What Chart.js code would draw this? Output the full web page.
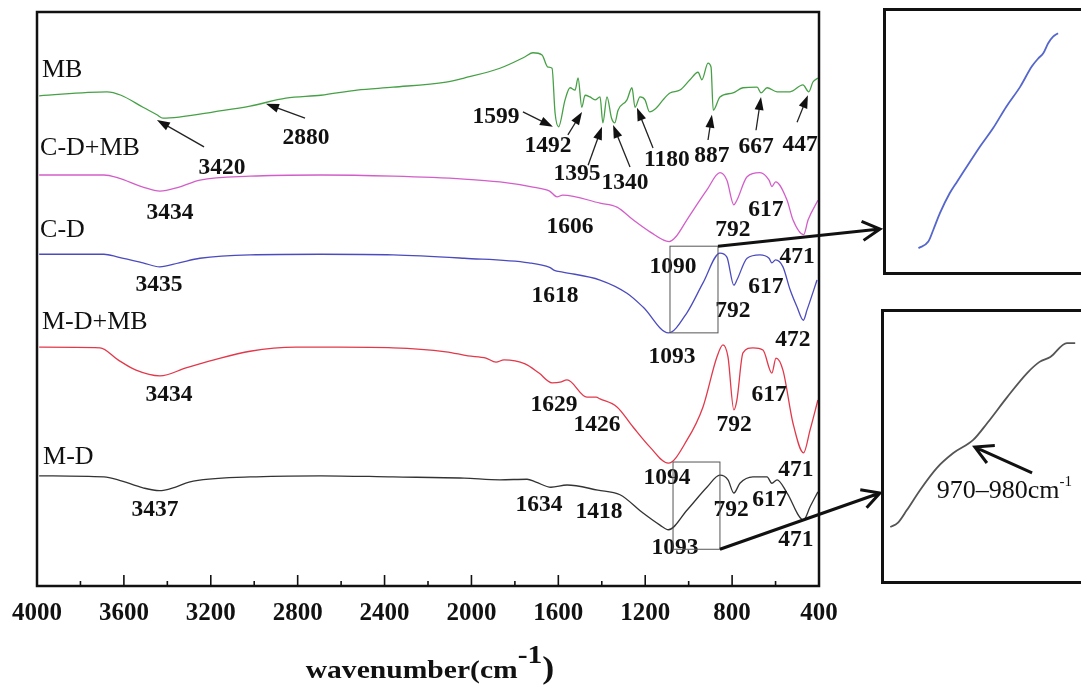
<!DOCTYPE html>
<html>
<head>
<meta charset="utf-8">
<script src="https://cdn.jsdelivr.net/npm/chart.js@4.4.1/dist/chart.umd.min.js"></script>
<style>
  html, body { margin: 0; padding: 0; background: #fff; overflow: hidden; }
  #wrap { position: relative; width: 1081px; height: 691px; overflow: hidden; background: #fff; }
  #wrap canvas { position: absolute; }
  .frame { position: absolute; box-sizing: border-box; border: 3px solid #111; }
</style>
</head>
<body>
<div id="wrap">
  <canvas id="main" width="1081" height="691" style="left:0;top:0;width:1081px;height:691px"></canvas>
  <canvas id="insetA" width="197" height="264" style="left:884px;top:9px;width:197px;height:264px"></canvas>
  <canvas id="insetB" width="199" height="273" style="left:882px;top:310px;width:199px;height:273px"></canvas>
  <div class="frame" style="left:883px;top:8px;width:230px;height:267px"></div>
  <div class="frame" style="left:881px;top:309px;width:230px;height:275px"></div>
</div>
<script>
// ---- FTIR spectra (wavenumber in cm-1, transmittance in arbitrary offset units) ----
const mbWn = [3990, 3678, 3613, 3512, 3448, 3420, 3346, 3185, 3019, 2854,
              2693, 2527, 2361, 2117, 2034, 1869, 1753, 1717, 1675, 1648,
              1629, 1615, 1599, 1569, 1546, 1523, 1509, 1492, 1477, 1454,
              1431, 1408, 1395, 1376, 1355, 1340, 1325, 1284, 1261, 1247,
              1224, 1201, 1180, 1146, 1118, 1086, 1040, 994, 957, 939,
              911, 897, 887, 856, 796, 750, 685, 667, 639, 593,
              533, 474, 447, 428, 405];
const mbT  = [85.4, 86.1, 85.5, 83.4, 82.1, 81.5, 81.7, 82.6, 83.6, 85.0,
              85.5, 86.4, 86.9, 87.8, 88.5, 90.2, 92.2, 92.9, 92.5, 90.4,
              90.2, 82.4, 80.0, 84.7, 86.8, 86.4, 88.5, 83.4, 85.5, 85.2,
              84.7, 85.2, 80.7, 85.2, 81.5, 80.7, 82.9, 84.7, 86.8, 83.4,
              85.2, 84.7, 82.6, 83.4, 84.7, 85.9, 86.4, 88.2, 89.5, 88.2,
              91.1, 90.4, 82.9, 85.2, 85.9, 86.8, 86.9, 85.9, 86.8, 86.1,
              86.1, 87.3, 86.1, 87.8, 88.5];

const cdmbWn = [3990, 3692, 3627, 3512, 3434, 3346, 3250, 3019, 2693, 2361,
                2034, 1869, 1717, 1640, 1606, 1580, 1408, 1330, 1256, 1178,
                1090, 1060, 1008, 916, 856, 824, 792, 778, 731, 672,
                630, 617, 600, 547, 520, 471, 450, 405];
const cdmbT  = [71.6, 71.6, 71.1, 69.5, 68.8, 69.5, 70.7, 71.4, 71.6, 71.4,
                70.9, 70.4, 69.5, 68.8, 67.8, 68.1, 66.7, 66.0, 63.8, 61.7,
                60.0, 60.8, 63.8, 69.0, 72.0, 70.7, 66.4, 67.2, 71.3, 72.0,
                70.7, 69.6, 70.4, 67.2, 63.8, 61.2, 63.8, 67.2];

const cdWn = [3990, 3692, 3627, 3512, 3435, 3346, 3250, 3019, 2693, 2361,
              2034, 1735, 1640, 1618, 1580, 1408, 1284, 1210, 1093, 1008,
              934, 856, 824, 792, 778, 731, 672, 630, 617, 600,
              566, 533, 501, 472, 455, 409];
const cdT  = [57.8, 57.8, 57.3, 56.3, 55.6, 56.3, 57.1, 57.7, 57.8, 57.7,
              57.1, 56.3, 55.5, 55.0, 54.7, 53.3, 51.0, 48.6, 44.1, 47.6,
              52.8, 58.0, 57.3, 52.4, 53.3, 57.1, 57.7, 57.1, 56.3, 56.8,
              55.6, 51.6, 48.6, 46.3, 48.1, 53.3];

const mdmbWn = [3990, 3710, 3627, 3544, 3434, 3314, 3185, 3019, 2808, 2610,
                2361, 2117, 2016, 1933, 1887, 1850, 1753, 1689, 1629, 1592,
                1560, 1468, 1426, 1408, 1330, 1256, 1178, 1094, 1008, 934,
                870, 842, 819, 792, 778, 750, 704, 658, 617, 598,
                566, 520, 471, 441, 405];
const mdmbT  = [41.6, 41.5, 39.4, 37.6, 36.6, 38.0, 39.4, 40.9, 41.6, 41.6,
                41.5, 40.8, 40.1, 39.7, 39.0, 39.4, 38.7, 37.1, 35.4, 35.5,
                35.9, 32.9, 32.9, 32.6, 31.2, 27.7, 24.2, 21.4, 25.4, 31.2,
                39.9, 42.0, 39.9, 30.7, 32.4, 40.6, 41.5, 41.1, 37.1, 39.7,
                37.6, 28.4, 23.2, 27.2, 32.4];

const mdWn = [3990, 3692, 3627, 3512, 3437, 3365, 3300, 3019, 2693, 2361,
              2034, 1869, 1744, 1703, 1634, 1560, 1418, 1316, 1210, 1132,
              1093, 1008, 916, 856, 819, 792, 764, 704, 639, 617,
              593, 547, 471, 441, 405];
const mdT  = [19.2, 19.0, 18.5, 17.1, 16.6, 17.2, 18.1, 19.0, 19.2, 19.0,
              18.8, 18.5, 18.6, 18.1, 17.2, 17.6, 16.7, 15.9, 12.7, 10.6,
              9.8, 13.2, 17.2, 19.3, 18.5, 16.2, 17.9, 19.0, 19.0, 17.9,
              18.5, 16.2, 11.5, 13.8, 16.4];

// enlarged 1093-880 cm-1 windows of C-D and M-D
const zoomCdWn = [1058, 1046, 1040, 1032, 1020, 1011, 999, 983, 967, 951, 934, 920, 912, 906, 900, 894, 888];
const zoomCdT  = [9.4, 11.9, 16.3, 22.6, 30.2, 34.6, 40.3, 47.9, 54.9, 63.0, 70.6, 78.2, 81.3, 83.2, 87.0, 89.5, 90.8];
const zoomMdWn = [1090, 1081, 1070, 1054, 1034, 1014, 990, 973, 949, 925, 910, 897, 877, 867];
const zoomMdT  = [20.5, 22.0, 26.7, 34.1, 42.1, 47.6, 52.4, 58.6, 68.1, 76.9, 81.0, 82.8, 87.9, 87.9];

// axis ticks
const xMin = 400, xMax = 4000, majorStep = 400, minorStep = 200;

// curve names
const seriesNames = ["MB", "C-D+MB", "C-D", "M-D+MB", "M-D"];
const seriesColors = ["#46a046", "#d35ec9", "#4b4bbf", "#e2384a", "#333333"];
const nameWn = [3977, 3986, 3986, 3977, 3972];
const nameT  = [89.9, 76.3, 62.0, 46.0, 22.5];

// band assignments written next to the curves
const peakText = ["3420", "2880", "1599", "1492", "1395", "1340", "1180", "887", "667", "447",
                  "3434", "1606", "1090", "792", "617", "471",
                  "3435", "1618", "1093", "792", "617", "472",
                  "3434", "1629", "1426", "1094", "792", "617", "471",
                  "3437", "1634", "1418", "1093", "792", "617", "471"];
const peakTextWn = [3148, 2762, 1887, 1648, 1514, 1293, 1100, 893, 690, 487,
                    3388, 1546, 1072, 796, 644, 501,
                    3438, 1615, 1077, 796, 644, 520,
                    3392, 1620, 1422, 1100, 791, 630, 506,
                    3457, 1689, 1413, 1063, 805, 626, 506];
const peakTextT = [72.8, 78.0, 81.7, 76.7, 71.8, 70.2, 74.2, 74.9, 76.5, 76.8,
                   65.0, 62.5, 55.6, 62.0, 65.5, 57.3,
                   52.4, 50.5, 39.9, 47.9, 52.1, 42.9,
                   33.3, 31.5, 28.0, 18.8, 28.0, 33.3, 20.2,
                   13.2, 14.1, 12.9, 6.6, 13.2, 15.0, 8.0];

// pointer arrows on the MB spectrum (tail -> head)
const arrowTailWn = [3231, 2766, 1763, 1556, 1463, 1270, 1164, 911, 690, 501];
const arrowTailT  = [76.5, 81.5, 82.6, 78.6, 73.3, 73.0, 76.3, 77.7, 79.4, 80.8];
const arrowHeadWn = [3448, 2946, 1625, 1491, 1399, 1348, 1238, 893, 667, 451];
const arrowHeadT  = [81.2, 84.0, 80.0, 82.6, 80.0, 80.3, 83.3, 82.1, 85.2, 85.5];

// windows that are enlarged on the right
const windowFromWn = [1086, 1072];
const windowToWn   = [865, 856];
const windowTopT   = [59.2, 21.6];
const windowBotT   = [44.1, 6.4];

const serif = '"Liberation Serif", "Times New Roman", serif';

function toPoints(wn, t) { return wn.map((w, i) => ({ x: w, y: t[i] })); }

function drawArrow(ctx, x1, y1, x2, y2, opt) {
  const ang = Math.atan2(y2 - y1, x2 - x1);
  const c = Math.cos(ang), s = Math.sin(ang);
  ctx.lineWidth = opt.width;
  ctx.beginPath();
  if (opt.filled) {
    ctx.moveTo(x1, y1);
    ctx.lineTo(x2 - c * opt.head * 0.8, y2 - s * opt.head * 0.8);
    ctx.stroke();
    ctx.beginPath();
    ctx.moveTo(x2, y2);
    ctx.lineTo(x2 - c * opt.head - s * opt.half, y2 - s * opt.head + c * opt.half);
    ctx.lineTo(x2 - c * opt.head + s * opt.half, y2 - s * opt.head - c * opt.half);
    ctx.closePath();
    ctx.fill();
  } else {
    ctx.moveTo(x1, y1);
    ctx.lineTo(x2, y2);
    const a1 = ang + Math.PI - 0.5, a2 = ang + Math.PI + 0.5;
    ctx.moveTo(x2 + Math.cos(a1) * opt.head, y2 + Math.sin(a1) * opt.head);
    ctx.lineTo(x2, y2);
    ctx.lineTo(x2 + Math.cos(a2) * opt.head, y2 + Math.sin(a2) * opt.head);
    ctx.stroke();
  }
}

// frame, inward ticks, axis title, curve names, band labels, arrows and windows
const spectraDecor = {
  id: 'spectraDecor',
  afterDraw(chart) {
    const { ctx, chartArea: a, scales: { x, y } } = chart;
    const X = v => x.getPixelForValue(v), Y = v => y.getPixelForValue(v);
    ctx.save();
    ctx.strokeStyle = '#111';
    ctx.fillStyle = '#111';

    // tick marks pointing into the plot
    ctx.lineWidth = 1.6;
    for (let v = xMin; v <= xMax; v += minorStep) {
      const len = (v % majorStep === 0) ? 11 : 5;
      const px = X(v);
      ctx.beginPath(); ctx.moveTo(px, a.bottom); ctx.lineTo(px, a.bottom - len); ctx.stroke();
    }
    // plot frame
    ctx.lineWidth = 2.5;
    ctx.strokeRect(a.left, a.top, a.right - a.left, a.bottom - a.top);

    // axis title with superscript
    ctx.save();
    const sx = 1.16;
    const fMain = 'bold 25.5px ' + serif, fParen = 'bold 31px ' + serif;
    ctx.font = fMain;
    const w1 = ctx.measureText('wavenumber(cm').width;
    const w2 = ctx.measureText('-1').width;
    ctx.font = fParen;
    const w3 = ctx.measureText(')').width;
    const total = (w1 + w2 + w3) * sx;
    const cx = (a.left + a.right) / 2 + 2;
    const base = 678;
    ctx.translate(cx - total / 2, base);
    ctx.scale(sx, 1);
    ctx.textBaseline = 'alphabetic';
    ctx.textAlign = 'left';
    ctx.font = fMain;
    ctx.fillText('wavenumber(cm', 0, 0);
    ctx.fillText('-1', w1, -15);
    ctx.font = fParen;
    ctx.fillText(')', w1 + w2, 0);
    ctx.restore();

    // curve names
    ctx.font = '26px ' + serif;
    ctx.textAlign = 'left';
    ctx.textBaseline = 'middle';
    seriesNames.forEach((n, i) => ctx.fillText(n, X(nameWn[i]), Y(nameT[i])));

    // band positions
    ctx.font = 'bold 23.5px ' + serif;
    ctx.textAlign = 'center';
    peakText.forEach((t, i) => ctx.fillText(t, X(peakTextWn[i]), Y(peakTextT[i])));

    // pointer arrows on MB
    ctx.strokeStyle = '#222'; ctx.fillStyle = '#111';
    arrowTailWn.forEach((w, i) => {
      drawArrow(ctx, X(w), Y(arrowTailT[i]), X(arrowHeadWn[i]), Y(arrowHeadT[i]),
                { filled: true, head: 13, half: 4.5, width: 1.3 });
    });

    // enlarged windows
    ctx.strokeStyle = '#555'; ctx.lineWidth = 1;
    windowFromWn.forEach((w, i) => {
      const x1 = X(w), x2 = X(windowToWn[i]), y1 = Y(windowTopT[i]), y2 = Y(windowBotT[i]);
      ctx.strokeRect(x1, y1, x2 - x1, y2 - y1);
    });
    // connectors to the enlarged views
    ctx.strokeStyle = '#111';
    drawArrow(ctx, X(windowToWn[0]), Y(windowTopT[0]), 880, 229, { filled: false, head: 20, width: 3 });
    drawArrow(ctx, X(windowToWn[1]), Y(windowBotT[1]), 880, 493, { filled: false, head: 20, width: 3 });
    ctx.restore();
  }
};

new Chart(document.getElementById('main'), {
  type: 'line',
  data: {
    datasets: [
      { label: seriesNames[0], data: toPoints(mbWn, mbT), borderColor: seriesColors[0] },
      { label: seriesNames[1], data: toPoints(cdmbWn, cdmbT), borderColor: seriesColors[1] },
      { label: seriesNames[2], data: toPoints(cdWn, cdT), borderColor: seriesColors[2] },
      { label: seriesNames[3], data: toPoints(mdmbWn, mdmbT), borderColor: seriesColors[3] },
      { label: seriesNames[4], data: toPoints(mdWn, mdT), borderColor: seriesColors[4] }
    ]
  },
  options: {
    responsive: false,
    animation: false,
    events: [],
    layout: { padding: { left: 37, top: 12, right: 262, bottom: 0 } },
    elements: {
      point: { radius: 0 },
      line: { borderWidth: 1.3, cubicInterpolationMode: 'monotone', fill: false }
    },
    plugins: { legend: { display: false }, tooltip: { enabled: false } },
    scales: {
      x: {
        type: 'linear', reverse: true, min: xMin, max: xMax,
        afterFit(scale) { scale.height = 105; scale.paddingLeft = 0; scale.paddingRight = 0; },
        grid: { display: false, drawTicks: false },
        border: { display: false },
        ticks: {
          stepSize: majorStep, autoSkip: false, maxRotation: 0, padding: 13,
          color: '#111', font: { family: serif, size: 25, weight: 'bold' },
          callback: v => String(v)
        }
      },
      y: { display: false, min: 0, max: 100 }
    }
  },
  plugins: [spectraDecor]
});

const insetScales = {
  x: { type: 'linear', display: false, reverse: true, min: 860, max: 1100 },
  y: { display: false, min: 0, max: 100 }
};

new Chart(document.getElementById('insetA'), {
  type: 'line',
  data: { datasets: [{ data: toPoints(zoomCdWn, zoomCdT), borderColor: '#5566cc', borderWidth: 1.8 }] },
  options: {
    responsive: false, animation: false, events: [],
    layout: { padding: 0 },
    elements: { point: { radius: 0 }, line: { cubicInterpolationMode: 'monotone' } },
    plugins: { legend: { display: false }, tooltip: { enabled: false } },
    scales: insetScales
  }
});

// label and pointer inside the M-D enlargement
const shoulderLabel = {
  id: 'shoulderLabel',
  afterDraw(chart) {
    const { ctx, scales: { x, y } } = chart;
    ctx.save();
    ctx.fillStyle = '#111'; ctx.strokeStyle = '#111';
    ctx.textBaseline = 'alphabetic'; ctx.textAlign = 'left';
    ctx.font = '26px ' + serif;
    const tx = x.getPixelForValue(1034), ty = y.getPixelForValue(31.1);
    ctx.fillText('970–980cm', tx, ty);
    const w = ctx.measureText('970–980cm').width;
    ctx.font = '15px ' + serif;
    ctx.fillText('-1', tx + w, ty - 12);
    drawArrow(ctx, x.getPixelForValue(919), y.getPixelForValue(40.3),
              x.getPixelForValue(988), y.getPixelForValue(49.8), { filled: false, head: 20, width: 3 });
    ctx.restore();
  }
};

new Chart(document.getElementById('insetB'), {
  type: 'line',
  data: { datasets: [{ data: toPoints(zoomMdWn, zoomMdT), borderColor: '#555555', borderWidth: 1.8 }] },
  options: {
    responsive: false, animation: false, events: [],
    layout: { padding: 0 },
    elements: { point: { radius: 0 }, line: { cubicInterpolationMode: 'monotone' } },
    plugins: { legend: { display: false }, tooltip: { enabled: false } },
    scales: insetScales
  },
  plugins: [shoulderLabel]
});
</script>
</body>
</html>
